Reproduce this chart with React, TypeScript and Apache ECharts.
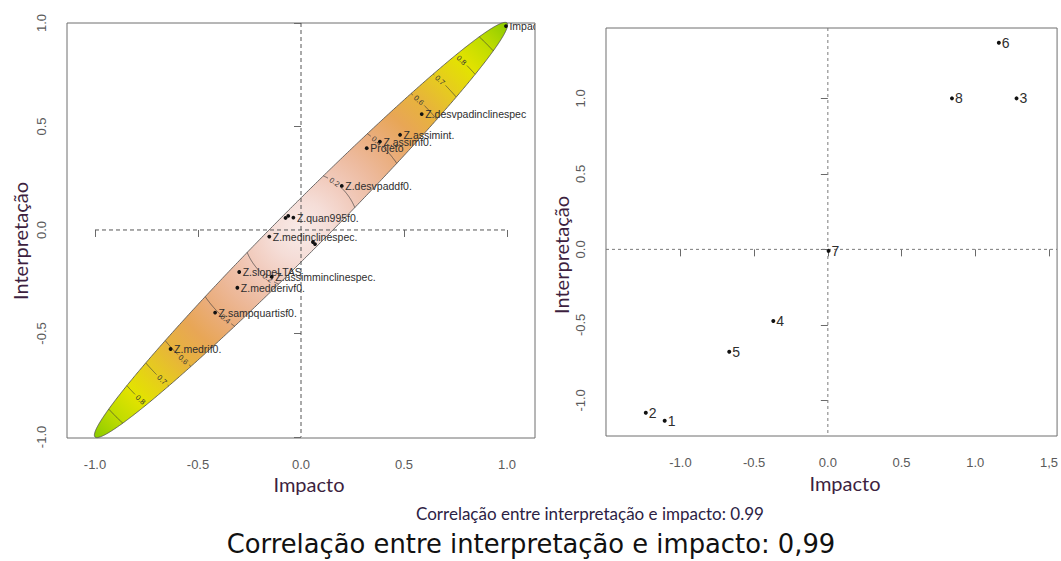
import React, { useEffect, useRef } from "react";
import * as echarts from "echarts";

// ---- Left panel: variables projected on impacto × interpretação ----
const leftNames = [
  "Impacto",
  "Z.desvpadinclinespec",
  "Z.assimint.",
  "Z.assimf0.",
  "Projeto",
  "Z.desvpaddf0.",
  "Z.quan995f0.",
  "",
  "",
  "Z.medinclinespec.",
  "",
  "",
  "Z.slopeLTAS",
  "Z.assimminclinespec.",
  "Z.medderivf0.",
  "Z.sampquartisf0.",
  "Z.medrif0.",
];
const leftImpacto = [0.995, 0.586, 0.481, 0.383, 0.319, 0.198, -0.037, -0.062, -0.075, -0.154, 0.068, 0.058, -0.3, -0.142, -0.309, -0.417, -0.633];
const leftInterp = [0.985, 0.56, 0.46, 0.427, 0.395, 0.213, 0.06, 0.068, 0.058, -0.032, -0.068, -0.058, -0.203, -0.226, -0.279, -0.399, -0.575];

// Correlation ellipse (major axis along y = x, tips at ±1) and its shading
const ellipseHalfLength = Math.SQRT2;
const ellipseHalfWidth = 0.11;
const contourLevels = [0.2, 0.4, 0.6, 0.7, 0.8, 0.9];
const labelledLevels = [0.2, 0.4, 0.6, 0.7, 0.8];
const shadeStops: [number, string][] = [
  [0.0, "#f8ebe8"],
  [0.1, "#f5ddd7"],
  [0.2, "#f1cabb"],
  [0.3, "#edba9d"],
  [0.4, "#eaad7c"],
  [0.5, "#e8a656"],
  [0.6, "#e7b33c"],
  [0.7, "#e6cc1e"],
  [0.8, "#e3e300"],
  [0.9, "#bfdc00"],
  [1.0, "#8bcb00"],
];

// ---- Right panel: scores of the eight projects ----
const rightNames = ["1", "2", "3", "4", "5", "6", "7", "8"];
const rightImpacto = [-1.107, -1.235, 1.28, -0.37, -0.669, 1.16, 0.005, 0.842];
const rightInterp = [-1.135, -1.082, 1.0, -0.475, -0.678, 1.368, -0.01, 1.0];

// ---- Axis ticks and texts ----
const leftTicks = [-1, -0.5, 0, 0.5, 1];
const rightXTicks = [-1, -0.5, 0, 0.5, 1, 1.5];
const rightYTicks = [-1, -0.5, 0, 0.5, 1];
const axisTitleX = "Impacto";
const axisTitleY = "Interpretação";
const captionSmall = "Correlação entre interpretação e impacto: 0.99";
const captionLarge = "Correlação entre interpretação e impacto: 0,99";

const tickFmt = (v: number) => (v === 1.5 ? "1,5" : v.toFixed(1));
const titleColor = "#3d1f40";

function axis(ticks: number[], min: number, max: number, gridIndex: number, rotate = 0) {
  return {
    type: "value",
    gridIndex,
    min,
    max,
    axisLine: { show: false },
    splitLine: { show: false },
    axisTick: { show: true, length: 7, customValues: ticks, lineStyle: { color: "#6a6a6a", width: 1 } },
    axisLabel: {
      customValues: ticks,
      formatter: tickFmt,
      color: "#5a5a5a",
      fontSize: 13,
      fontFamily: "Liberation Sans",
      margin: rotate ? 19 : 20,
      rotate,
    },
  };
}

// angular extent of a contour circle that falls inside the ellipse
function arcExtent(level: number, base: number): [number, number] | null {
  const r = level * Math.SQRT2;
  let lo = Infinity;
  let hi = -Infinity;
  const N = 4000;
  for (let k = 0; k <= N; k++) {
    const th = base - Math.PI / 2 + (Math.PI * k) / N;
    const s = r * Math.cos(th - Math.PI / 4);
    const p = r * Math.sin(th - Math.PI / 4);
    if ((s * s) / (ellipseHalfLength * ellipseHalfLength) + (p * p) / (ellipseHalfWidth * ellipseHalfWidth) <= 1) {
      lo = Math.min(lo, th);
      hi = Math.max(hi, th);
    }
  }
  return lo <= hi ? [lo, hi] : null;
}

function renderEllipse(_params: any, api: any) {
  const c = api.coord([0, 0]);
  const tip = api.coord([1, 1]);
  const rPx = Math.hypot(tip[0] - c[0], tip[1] - c[1]);
  const outline: number[][] = [];
  for (let i = 0; i < 720; i++) {
    const t = (i / 720) * Math.PI * 2;
    const s = ellipseHalfLength * Math.cos(t);
    const p = ellipseHalfWidth * Math.sin(t);
    outline.push(api.coord([(s - p) / Math.SQRT2, (s + p) / Math.SQRT2]));
  }
  const fill = new echarts.graphic.RadialGradient(
    c[0],
    c[1],
    rPx,
    shadeStops.map(([offset, color]) => ({ offset, color })),
    true
  );
  const children: any[] = [
    {
      type: "polygon",
      shape: { points: outline },
      style: { fill, stroke: "#4a4a4a", lineWidth: 0.8 },
    },
  ];
  for (const base of [Math.PI / 4, (5 * Math.PI) / 4]) {
    for (const level of contourLevels) {
      const ext = arcExtent(level, base);
      if (!ext) continue;
      const [lo, hi] = ext;
      const r = level * Math.SQRT2;
      const labelled = labelledLevels.includes(level);
      const thLab = hi - 0.28 * (hi - lo);
      const gap = labelled ? 7.5 / (level * rPx) : 0;
      let run: number[][] = [];
      const flush = () => {
        if (run.length > 1) {
          children.push({
            type: "polyline",
            shape: { points: run },
            style: { stroke: "#3c3c3c", lineWidth: 0.7, fill: "none" },
          });
        }
        run = [];
      };
      const M = 80;
      for (let k = 0; k <= M; k++) {
        const th = lo + ((hi - lo) * k) / M;
        if (labelled && Math.abs(th - thLab) < gap) {
          flush();
          continue;
        }
        run.push(api.coord([r * Math.cos(th), r * Math.sin(th)]));
      }
      flush();
      if (labelled) {
        const pos = api.coord([r * Math.cos(thLab), r * Math.sin(thLab)]);
        let rot = thLab - Math.PI / 2;
        while (rot > Math.PI / 2) rot -= Math.PI;
        while (rot < -Math.PI / 2) rot += Math.PI;
        children.push({
          type: "text",
          x: pos[0],
          y: pos[1],
          rotation: rot,
          style: {
            text: String(level),
            fill: "#333",
            font: '7.5px "Liberation Sans"',
            align: "center",
            verticalAlign: "middle",
            textAlign: "center",
            textVerticalAlign: "middle",
          },
        });
      }
    }
  }
  return { type: "group", children };
}

function dashedCross(extent: number | null, dash: number[], color: string) {
  return (params: any, api: any) => {
    const cs = params.coordSys;
    const o = api.coord([0, 0]);
    let x1 = cs.x, x2 = cs.x + cs.width, y1 = cs.y, y2 = cs.y + cs.height;
    if (extent !== null) {
      const a = api.coord([-extent, -extent]);
      const b = api.coord([extent, extent]);
      x1 = a[0]; x2 = b[0]; y1 = b[1]; y2 = a[1];
    }
    const style = { stroke: color, lineWidth: 1, lineDash: dash, fill: "none" };
    return {
      type: "group",
      children: [
        { type: "line", shape: { x1, y1: o[1], x2, y2: o[1] }, style },
        { type: "line", shape: { x1: o[0], y1, x2: o[0], y2 }, style },
      ],
    };
  };
}

function pointRenderer(names: string[], font: string, dx: number, r: number) {
  return (params: any, api: any) => {
    const p = api.coord([api.value(0), api.value(1)]);
    const name = names[params.dataIndex];
    const children: any[] = [
      { type: "circle", shape: { cx: p[0], cy: p[1], r }, style: { fill: "#111" } },
    ];
    if (name) {
      children.push({
        type: "text",
        x: p[0] + dx,
        y: p[1],
        style: {
          text: name,
          fill: "#2e2e2e",
          font,
          align: "left",
          verticalAlign: "middle",
          textAlign: "left",
          textVerticalAlign: "middle",
        },
      });
    }
    return { type: "group", children };
  };
}

function textEl(text: string, x: number, y: number, font: string, fill: string, rotation = 0) {
  return {
    type: "text",
    x,
    y,
    rotation,
    style: { text, font, fill, align: "center", verticalAlign: "middle", textAlign: "center", textVerticalAlign: "middle" },
  };
}

export default function App() {
  const ref = useRef<HTMLDivElement>(null);
  useEffect(() => {
    if (!ref.current) return;
    const chart = echarts.init(ref.current, null, { renderer: "svg" });
    chart.setOption({
      animation: false,
      backgroundColor: "#ffffff",
      grid: [
        { left: 67, top: 23, width: 468, height: 415, show: true, borderColor: "#6e6e6e", borderWidth: 1, backgroundColor: "transparent" },
        { left: 606, top: 28, width: 454, height: 408, show: true, borderColor: "#6e6e6e", borderWidth: 1, backgroundColor: "transparent" },
      ],
      xAxis: [axis(leftTicks, -1.136, 1.136, 0), axis(rightXTicks, -1.505, 1.555, 1)],
      yAxis: [axis(leftTicks, -1.005, 1.0, 0, 90), axis(rightYTicks, -1.236, 1.466, 1, 90)],
      series: [
        { type: "custom", xAxisIndex: 0, yAxisIndex: 0, data: [[0, 0]], renderItem: renderEllipse, silent: true },
        { type: "custom", xAxisIndex: 0, yAxisIndex: 0, data: [[0, 0]], renderItem: dashedCross(1, [4, 3], "#555"), silent: true },
        {
          type: "custom",
          xAxisIndex: 0,
          yAxisIndex: 0,
          clip: true,
          data: leftImpacto.map((x, i) => [x, leftInterp[i]]),
          renderItem: pointRenderer(leftNames, '10.5px "Liberation Sans"', 3.5, 1.9),
          silent: true,
        },
        { type: "custom", xAxisIndex: 1, yAxisIndex: 1, data: [[0, 0]], renderItem: dashedCross(null, [3, 3], "#7a7a7a"), silent: true },
        {
          type: "custom",
          xAxisIndex: 1,
          yAxisIndex: 1,
          clip: true,
          data: rightImpacto.map((x, i) => [x, rightInterp[i]]),
          renderItem: pointRenderer(rightNames, '14px "Liberation Sans"', 3, 2),
          silent: true,
        },
      ],
      graphic: [
        textEl(axisTitleY, 20, 241, '20px Lato', titleColor, Math.PI / 2),
        textEl(axisTitleX, 309, 484, '20px Lato', titleColor),
        textEl(axisTitleY, 561, 255, '20px Lato', titleColor, Math.PI / 2),
        textEl(axisTitleX, 845, 483, '20px Lato', titleColor),
        textEl(captionSmall, 590, 513, '17px Lato', "#2c2244"),
        textEl(captionLarge, 531, 544, '25.8px "DejaVu Sans"', "#111"),
      ],
    });
    return () => chart.dispose();
  }, []);
  return (
    <div
      ref={ref}
      style={{ position: "fixed", left: 0, top: 0, width: 1061, height: 561, background: "#fff" }}
    />
  );
}
